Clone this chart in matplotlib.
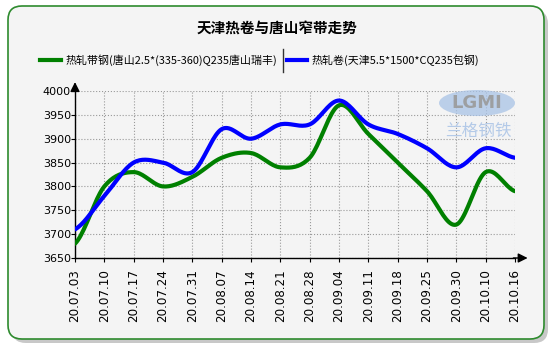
import numpy as np
import matplotlib
matplotlib.use("Agg")
from matplotlib import pyplot as plt
from matplotlib.patches import FancyBboxPatch, Ellipse
from matplotlib.lines import Line2D

plt.rcParams['font.family'] = ['DejaVu Sans', 'Noto Sans CJK SC']

# weekly prices
dates = ['20.07.03', '20.07.10', '20.07.17', '20.07.24', '20.07.31', '20.08.07',
         '20.08.14', '20.08.21', '20.08.28', '20.09.04', '20.09.11', '20.09.18',
         '20.09.25', '20.09.30', '20.10.10', '20.10.16']
strip_ts = [3680, 3800, 3830, 3800, 3820, 3860, 3870, 3840, 3860, 3970, 3910, 3850,
            3790, 3720, 3830, 3790]
coil_tj = [3710, 3780, 3850, 3850, 3830, 3920, 3900, 3930, 3930, 3980, 3930, 3910,
           3880, 3840, 3880, 3860]
name_ts = '热轧带钢(唐山2.5*(335-360)Q235唐山瑞丰)'
name_tj = '热轧卷(天津5.5*1500*CQ235包钢)'
title = '天津热卷与唐山窄带走势'
cjk = ['Noto Sans CJK SC', 'DejaVu Sans']


def smooth(y, n=20):
    # catmull-rom curve through the weekly points
    y = np.asarray(y, dtype=float)
    p = np.concatenate([[y[0]], y, [y[-1]]])
    xs, ys = [], []
    t = np.linspace(0, 1, n, endpoint=False)
    for i in range(len(y) - 1):
        p0, p1, p2, p3 = p[i], p[i + 1], p[i + 2], p[i + 3]
        seg = 0.5 * (2 * p1 + (-p0 + p2) * t + (2 * p0 - 5 * p1 + 4 * p2 - p3) * t ** 2
                     + (-p0 + 3 * p1 - 3 * p2 + p3) * t ** 3)
        xs.append(i + t)
        ys.append(seg)
    xs.append([len(y) - 1])
    ys.append([y[-1]])
    return np.concatenate(xs), np.concatenate(ys)


W, H = 555, 350
fig = plt.figure(figsize=(W / 100, H / 100), dpi=100)
fig.patch.set_facecolor('white')

def fx(px):
    return px / W

def fy(py):
    return 1 - py / H

# panel with shadow
shadow = FancyBboxPatch((fx(12), fy(343)), fx(536), fy(10) - fy(343),
                        boxstyle='round,pad=0,rounding_size=0.025',
                        transform=fig.transFigure, facecolor='#c8c8c8', edgecolor='none',
                        zorder=-2, mutation_aspect=W / H)
fig.patches.append(shadow)
panel = FancyBboxPatch((fx(8), fy(339)), fx(536), fy(6) - fy(339),
                       boxstyle='round,pad=0,rounding_size=0.025',
                       transform=fig.transFigure, facecolor='#f4f4f4', edgecolor='#2e8b2e',
                       linewidth=1.2, zorder=-1, mutation_aspect=W / H)
fig.patches.append(panel)

fig.text(fx(277), fy(29), title, ha='center', va='center', fontsize=10.5,
         fontweight='bold', family=cjk)

# legend row
fig.add_artist(Line2D([fx(40), fx(61)], [fy(60), fy(60)], color='green', lw=3,
                      transform=fig.transFigure))
fig.text(fx(66), fy(60), name_ts, ha='left', va='center', fontsize=7.9, family=cjk)
fig.add_artist(Line2D([fx(283), fx(283)], [fy(49), fy(72)], color='#333333', lw=1,
                      transform=fig.transFigure))
fig.add_artist(Line2D([fx(287), fx(307)], [fy(60), fy(60)], color='blue', lw=3,
                      transform=fig.transFigure))
fig.text(fx(311), fy(60), name_tj, ha='left', va='center', fontsize=7.9, family=cjk)

ax = fig.add_axes([fx(75), fy(258), fx(515) - fx(75), fy(91) - fy(258)])
ax.set_facecolor('none')
x = np.arange(len(dates))
xs, ys = smooth(strip_ts)
ax.plot(xs, ys, color='green', lw=3, solid_capstyle='round', zorder=3)
xs, ys = smooth(coil_tj)
ax.plot(xs, ys, color='blue', lw=3, solid_capstyle='round', zorder=4)

ax.set_xlim(0, len(dates) - 1)
ax.set_ylim(3650, 4000)
ax.set_xticks(x)
ax.set_xticklabels(dates, rotation=90, fontsize=8.6)
ax.set_yticks(np.arange(3650, 4001, 50))
ax.tick_params(axis='y', labelsize=8, length=3, pad=0)
ax.tick_params(axis='x', length=3, pad=5)
ax.grid(True, color='#999999', linestyle=':', linewidth=0.8)
for s in ['top', 'right']:
    ax.spines[s].set_visible(False)
for s in ['left', 'bottom']:
    ax.spines[s].set_color('black')
    ax.spines[s].set_linewidth(1)

# axis arrows
ax.annotate('', xy=(1.035, 0), xytext=(0.99, 0), xycoords='axes fraction',
            arrowprops=dict(arrowstyle='-|>', color='black', lw=1, mutation_scale=14))
ax.annotate('', xy=(0, 1.07), xytext=(0, 0.99), xycoords='axes fraction',
            arrowprops=dict(arrowstyle='-|>', color='black', lw=1, mutation_scale=14))

# watermark
fig.add_artist(Ellipse((fx(477), fy(103)), fx(76), fy(0) - fy(26), transform=fig.transFigure,
                       facecolor='#a9c3e6', edgecolor='none', alpha=0.75, zorder=2))
fig.text(fx(477), fy(103), 'LGMI', ha='center', va='center', fontsize=13, fontweight='bold',
         color='#9a9a9a', alpha=0.9, zorder=3)
fig.text(fx(478), fy(131), '兰格钢铁', ha='center', va='center', fontsize=12,
         color='#b4cae8', family=cjk, style='italic', zorder=3)

fig.savefig('out.png', dpi=100, facecolor='white')
